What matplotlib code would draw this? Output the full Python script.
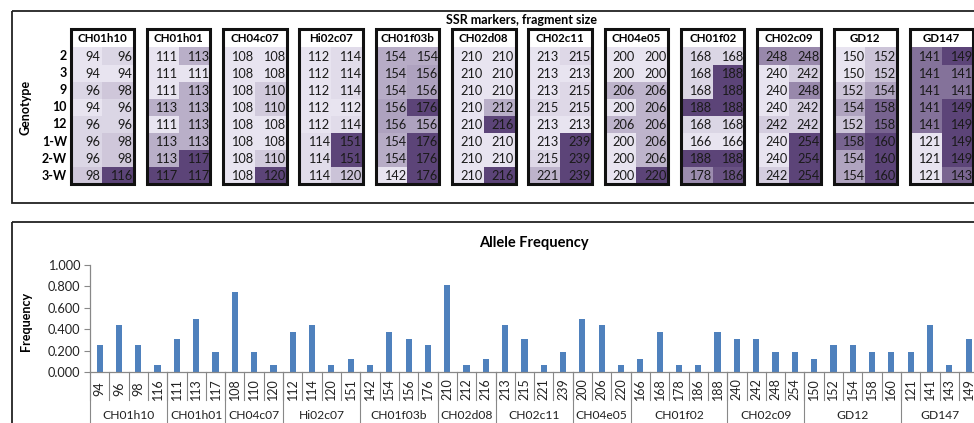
import matplotlib
matplotlib.use("Agg")
import matplotlib.pyplot as plt
from matplotlib.patches import Rectangle
from matplotlib.colors import LinearSegmentedColormap
from matplotlib.transforms import blended_transform_factory
import numpy as np

plt.rcParams['font.family'] = ['Lato', 'DejaVu Sans']

# ---- genotype table: two alleles per genotype for each SSR marker ----
genotypes = ["2", "3", "9", "10", "12", "1-W", "2-W", "3-W"]
markers = ["CH01h10", "CH01h01", "CH04c07", "Hi02c07", "CH01f03b", "CH02d08",
           "CH02c11", "CH04e05", "CH01f02", "CH02c09", "GD12", "GD147"]

ch01h10 = [(94, 96), (94, 94), (96, 98), (94, 96), (96, 96), (96, 98), (96, 98), (98, 116)]
ch01h01 = [(111, 113), (111, 111), (111, 113), (113, 113), (111, 113), (113, 113), (113, 117), (117, 117)]
ch04c07 = [(108, 108), (108, 108), (108, 110), (108, 110), (108, 108), (108, 108), (108, 110), (108, 120)]
hi02c07 = [(112, 114), (112, 114), (112, 114), (112, 112), (112, 114), (114, 151), (114, 151), (114, 120)]
ch01f03b = [(154, 154), (154, 156), (154, 156), (156, 176), (156, 156), (154, 176), (154, 176), (142, 176)]
ch02d08 = [(210, 210), (210, 210), (210, 210), (210, 212), (210, 216), (210, 210), (210, 210), (210, 216)]
ch02c11 = [(213, 215), (213, 213), (213, 215), (215, 215), (213, 213), (213, 239), (215, 239), (221, 239)]
ch04e05 = [(200, 200), (200, 200), (206, 206), (200, 206), (206, 206), (200, 206), (200, 206), (200, 220)]
ch01f02 = [(168, 168), (168, 188), (168, 188), (188, 188), (168, 168), (166, 166), (188, 188), (178, 186)]
ch02c09 = [(248, 248), (240, 242), (240, 248), (240, 242), (242, 242), (240, 254), (240, 254), (242, 254)]
gd12 = [(150, 152), (150, 152), (152, 154), (154, 158), (152, 158), (158, 160), (154, 160), (154, 160)]
gd147 = [(141, 149), (141, 141), (141, 141), (141, 149), (141, 149), (121, 149), (121, 149), (121, 143)]

genotype_table = [ch01h10, ch01h01, ch04c07, hi02c07, ch01f03b, ch02d08,
                  ch02c11, ch04e05, ch01f02, ch02c09, gd12, gd147]

# ---- allele frequencies per marker ----
alleles = [
    [94, 96, 98, 116],
    [111, 113, 117],
    [108, 110, 120],
    [112, 114, 120, 151],
    [142, 154, 156, 176],
    [210, 212, 216],
    [213, 215, 221, 239],
    [200, 206, 220],
    [166, 168, 178, 186, 188],
    [240, 242, 248, 254],
    [150, 152, 154, 158, 160],
    [121, 141, 143, 149],
]
frequencies = [
    [0.250, 0.438, 0.250, 0.063],
    [0.313, 0.500, 0.188],
    [0.750, 0.188, 0.063],
    [0.375, 0.438, 0.063, 0.125],
    [0.063, 0.375, 0.313, 0.250],
    [0.813, 0.063, 0.125],
    [0.438, 0.313, 0.063, 0.188],
    [0.500, 0.438, 0.063],
    [0.125, 0.375, 0.063, 0.063, 0.375],
    [0.313, 0.313, 0.188, 0.188],
    [0.125, 0.250, 0.250, 0.188, 0.188],
    [0.188, 0.438, 0.063, 0.313],
]

W, H = 974, 423
fig = plt.figure(figsize=(W / 100, H / 100), dpi=100)
fig.patch.set_facecolor("white")

# overlay axes in pixel units for the table and panel frames
ax_t = fig.add_axes([0, 0, 1, 1])
ax_t.set_xlim(0, W)
ax_t.set_ylim(H, 0)
ax_t.axis("off")

purple = LinearSegmentedColormap.from_list("purple", ["#E8E4F0", "#5C4478"])

# panel frames
ax_t.add_patch(Rectangle((12, 11), 1000, 192, fill=False, lw=1.3, ec="#222222"))
ax_t.add_patch(Rectangle((12, 222), 1000, 260, fill=False, lw=1.3, ec="#222222"))

ax_t.text(522, 20, "SSR markers, fragment size", ha="center", va="center",
          fontsize=9, fontweight="bold")

blk_x0, blk_pitch, blk_w = 70.5, 76.3, 63.5
hdr_top, hdr_h, row_h = 29.0, 18.5, 17.1
data_top = hdr_top + hdr_h

for r, g in enumerate(genotypes):
    ax_t.text(67, data_top + (r + 0.5) * row_h, g, ha="right", va="center",
              fontsize=9, fontweight="bold")
ax_t.text(25, data_top + 4 * row_h - 8, "Genotype", rotation=90, ha="center",
          va="center", fontsize=9, fontweight="bold")

for i, (name, rows) in enumerate(zip(markers, genotype_table)):
    x0 = blk_x0 + i * blk_pitch
    vals = np.array(rows, dtype=float)
    vmin, vmax = vals.min(), vals.max()
    for r, pair in enumerate(rows):
        for c, v in enumerate(pair):
            t = (v - vmin) / (vmax - vmin) if vmax > vmin else 0.0
            ax_t.add_patch(Rectangle((x0 + c * blk_w / 2, data_top + r * row_h),
                                     blk_w / 2, row_h, color=purple(t), lw=0))
            ax_t.text(x0 + (c + 1) * blk_w / 2 - 1.5, data_top + (r + 0.5) * row_h + 0.5,
                      str(v), ha="right", va="center", fontsize=9.2, color="#1a1a1a")
    ax_t.text(x0 + blk_w / 2, hdr_top + hdr_h / 2, name, ha="center", va="center",
              fontsize=8.3, fontweight="bold")
    ax_t.add_patch(Rectangle((x0, hdr_top), blk_w, hdr_h + 8 * row_h, fill=False,
                             lw=2.2, ec="#111111"))

# ---- allele frequency bar chart ----
ax_left, ax_y0, ax_y1, cat_w = 90, 372, 265, 19.31
n_cat = sum(len(a) for a in alleles)
ax_b = fig.add_axes([ax_left / W, (H - ax_y0) / H, n_cat * cat_w / W, (ax_y0 - ax_y1) / H])
ax_b.patch.set_alpha(0)

labels, values, group_bounds = [], [], [0]
for a, f in zip(alleles, frequencies):
    labels += [str(x) for x in a]
    values += f
    group_bounds.append(group_bounds[-1] + len(a))
xpos = np.arange(n_cat)

ax_b.bar(xpos, values, width=0.32, color="#4F81BD")
ax_b.set_xlim(-0.5, n_cat - 0.5)
ax_b.set_ylim(0, 1.0)
ax_b.set_yticks(np.arange(0, 1.01, 0.2))
ax_b.set_yticklabels([f"{v:.3f}" for v in np.arange(0, 1.01, 0.2)], fontsize=9.2,
                     color="#222222")
ax_b.tick_params(axis="y", length=4, width=0.8, color="#888888", pad=3)
ax_b.set_xticks([])
for s in ["top", "right"]:
    ax_b.spines[s].set_visible(False)
for s in ["left", "bottom"]:
    ax_b.spines[s].set_color("#888888")
    ax_b.spines[s].set_linewidth(0.9)

ax_b.set_title("Allele Frequency", fontsize=10.5, fontweight="bold", pad=13)
ax_b.set_ylabel("Frequency", fontsize=9, fontweight="bold")
ax_b.yaxis.set_label_coords(-58 / (n_cat * cat_w), 0.47)

px = 1.0 / (ax_y0 - ax_y1)  # one pixel in axes-fraction units (vertical)
trans = blended_transform_factory(ax_b.transData, ax_b.transAxes)
for k, lab in enumerate(labels):
    ax_b.text(xpos[k], -17 * px, lab, rotation=90, ha="center", va="center",
              fontsize=9, transform=trans, color="#222222")
# inner category separators
for k in range(n_cat + 1):
    ax_b.plot([k - 0.5, k - 0.5], [0, -28 * px], color="#888888", lw=0.8,
              transform=trans, clip_on=False)
# marker group separators and names
for gi, name in enumerate(markers):
    b0, b1 = group_bounds[gi], group_bounds[gi + 1]
    ax_b.plot([b0 - 0.5, b0 - 0.5], [0, -60 * px], color="#888888", lw=0.8,
              transform=trans, clip_on=False)
    ax_b.text((b0 + b1 - 1) / 2, -43 * px, name, ha="center", va="center",
              fontsize=8.7, transform=trans, color="#222222")

fig.savefig("out.png", dpi=100)
